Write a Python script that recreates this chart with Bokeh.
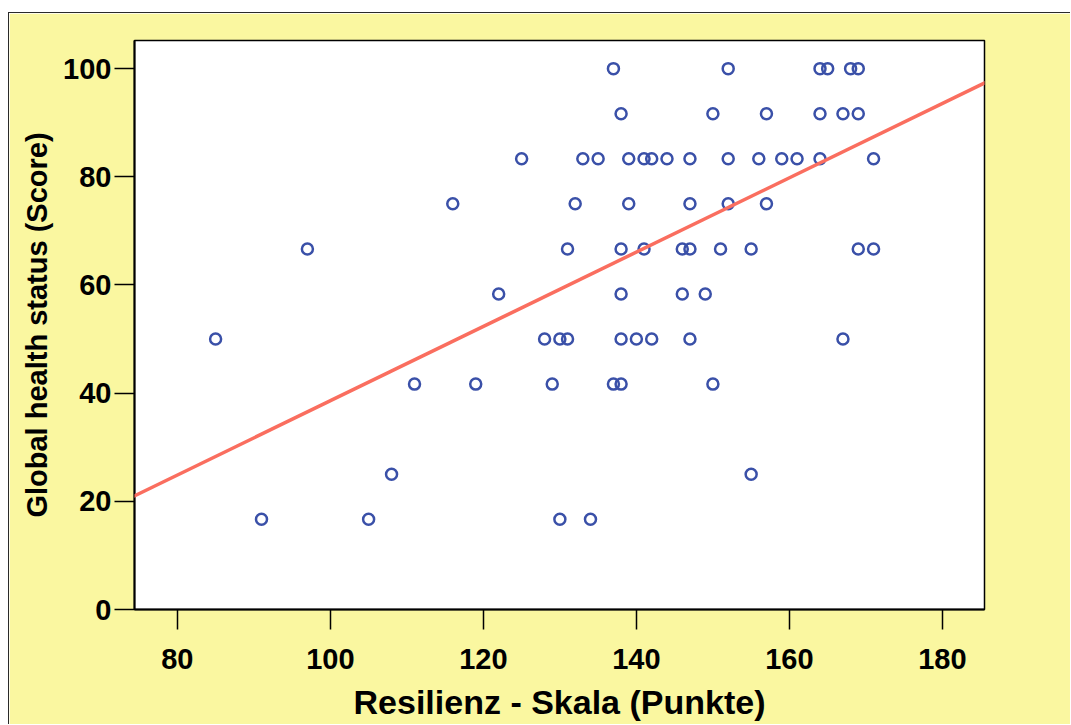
from bokeh.plotting import figure
from bokeh.models import Range1d, FixedTicker, Slope
from bokeh.embed import file_html
from bokeh.resources import INLINE

# --- data ---
resilienz = [
    137, 152, 164, 165, 168, 169,                      # 100
    138, 150, 157, 164, 167, 169,                      # 91.67
    125, 133, 135, 139, 141, 142, 144, 147, 152, 156, 159, 161, 164, 171,  # 83.33
    116, 132, 139, 147, 152, 157,                      # 75
    97, 131, 138, 141, 146, 147, 151, 155, 169, 171,   # 66.67
    122, 138, 146, 149,                                # 58.33
    85, 128, 130, 131, 138, 140, 142, 147, 167,        # 50
    111, 119, 129, 137, 138, 150,                      # 41.67
    108, 155,                                          # 25
    91, 105, 130, 134,                                 # 16.67
]
health = (
    [100.0] * 6 + [91.67] * 6 + [83.33] * 14 + [75.0] * 6 + [66.67] * 10
    + [58.33] * 4 + [50.0] * 9 + [41.67] * 6 + [25.0] * 2 + [16.67] * 4
)
fit_intercept = -30.1
fit_slope = 0.687

x_ticks = [80, 100, 120, 140, 160, 180]
y_ticks = [0, 20, 40, 60, 80, 100]

YELLOW = "#FAF7A0"
FONT = "Liberation Sans"

p = figure(
    width=1062, height=712,
    x_range=Range1d(74.4, 185.5), y_range=Range1d(0, 105.2),
    output_backend="svg", toolbar_location=None,
    min_border_left=125, min_border_right=87,
    min_border_top=27, min_border_bottom=116,
)
p.styles = {
    "margin-top": "12px",
    "margin-left": "8px",
    "border-top": "1px solid #2a2a2a",
    "border-left": "1px solid #2a2a2a",
}
p.border_fill_color = YELLOW
p.background_fill_color = "white"
p.outline_line_color = "black"
p.outline_line_width = 1.5
p.xgrid.visible = False
p.ygrid.visible = False

for ax in (p.xaxis[0], p.yaxis[0]):
    ax.minor_tick_line_color = None
    ax.major_tick_in = 0
    ax.major_tick_out = 20
    ax.major_tick_line_color = "black"
    ax.major_tick_line_width = 1.5
    ax.axis_line_color = "black"
    ax.axis_line_width = 2
    ax.major_label_text_font = FONT
    ax.major_label_text_font_style = "bold"
    ax.major_label_text_font_size = "29px"
    ax.major_label_text_color = "black"
    ax.axis_label_text_font = FONT
    ax.axis_label_text_font_style = "bold"
    ax.axis_label_text_color = "black"

p.xaxis[0].ticker = FixedTicker(ticks=x_ticks)
p.yaxis[0].ticker = FixedTicker(ticks=y_ticks)
p.xaxis[0].axis_label = "Resilienz - Skala (Punkte)"
p.yaxis[0].axis_label = "Global health status (Score)"
p.xaxis[0].axis_label_text_font_size = "34px"
p.yaxis[0].axis_label_text_font_size = "29px"
p.xaxis[0].major_label_standoff = 19
p.xaxis[0].axis_label_standoff = 11
p.yaxis[0].major_label_standoff = 3
p.yaxis[0].axis_label_standoff = 7

p.scatter(resilienz, health, marker="circle", size=11,
          fill_color=None, line_color="#3A50A8", line_width=2.5)

p.add_layout(Slope(gradient=fit_slope, y_intercept=fit_intercept,
                   line_color="#FA6E5F", line_width=3.5))

open("out.html", "w").write(file_html(p, INLINE))
